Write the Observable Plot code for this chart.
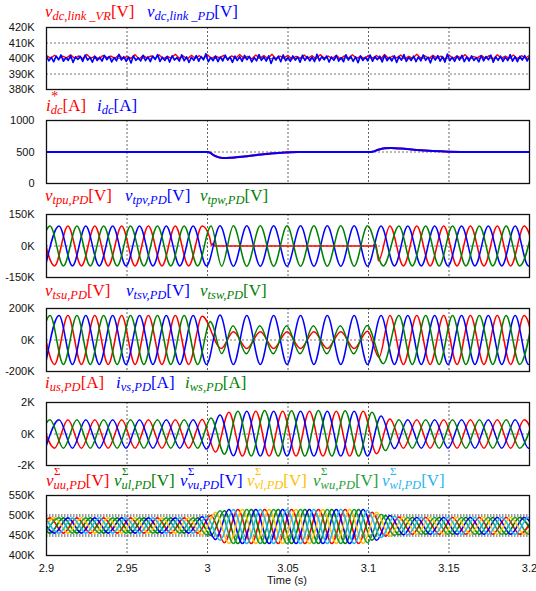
<!DOCTYPE html>
<html><head><meta charset="utf-8">
<script src="https://cdn.jsdelivr.net/npm/d3@7"></script>
<script src="https://cdn.jsdelivr.net/npm/@observablehq/plot@0.6"></script>
<style>
html,body{margin:0;padding:0;background:#fff;}
#chart{position:relative;width:536px;height:591px;overflow:hidden;background:#fff;}
.t{position:absolute;white-space:nowrap;font-family:"Liberation Serif","Times New Roman",serif;font-size:17px;line-height:17px;}
.t i{font-style:italic;}
.ss{position:relative;font-size:12.5px;font-style:italic;top:3px;}
.sp{position:absolute;font-style:normal;white-space:nowrap;}
.ax{position:absolute;font-family:"Liberation Sans",Arial,sans-serif;font-size:11px;color:#111;white-space:nowrap;}
</style></head><body><div id="chart"></div>
<script>
// ---------- colours ----------
const RED="#ff0000", BLUE="#0000ff", GREEN="#008000", YELLOW="#ffc000", GREEN2="#1f9e3a", CYAN="#25b6ee";

// ---------- x axis ----------
const xTicks=[2.9,2.95,3,3.05,3.1,3.15,3.2];
const xTickLabels=["2.9","2.95","3","3.05","3.1","3.15","3.2"];
const xGrid=[2.95,3,3.05,3.1,3.15];
const xTitle="Time (s)";

// ---------- panel 1 : dc link voltage deviation from 400 kV, even samples over 2.9..3.2 ----------
const p1Ticks=[380,390,400,410,420];
const p1Labels=["380K","390K","400K","410K","420K"];
const p1Base=400;
const p1VR=[1.8,0.2,2.1,-0.3,1.5,0.4,2.4,0.0,1.7,-0.2,2.6,0.3,1.4,-0.4,2.0,0.5,1.6,0.1,2.3,-0.1,1.3,0.2,2.5,-0.3,1.9,0.4,1.7,0.0,2.2,-0.2,1.4,0.3,2.7,0.1,1.6,-0.4,2.1,0.2,1.8,0.0,2.4,-0.1,1.5,0.4,2.0,-0.3,1.7,0.2,2.6,0.1,1.3,-0.2,2.2,0.3,1.9,0.0,2.8,-0.1,1.6,0.4,2.0,-0.3,1.4,0.2,2.3,0.1,1.8,-0.2,2.5,0.3,1.5,0.0,2.1,-0.4,1.7,0.2,2.4,0.1,1.3,-0.1,2.0,0.3,1.9,-0.3,2.6,0.0,1.6,0.4,2.2,-0.2,1.4,0.1,2.7,0.2,1.8,-0.1,2.1,0.3,1.5,-0.4,2.3,0.0,1.7,0.2,2.5,-0.2,1.4,0.4,2.0,0.1,1.9,-0.3,2.4,0.2,1.6,0.0,2.2,-0.1,1.8,0.3,2.0];
const p1PD=[1.2,-1.5,0.8,-2.1,1.6,-0.9,2.3,-1.8,0.5,-1.2,1.9,-2.6,1.1,-0.6,1.4,-1.9,2.2,-1.1,0.7,-2.4,
1.5,-1.3,0.9,-1.7,2.0,-0.8,1.3,-2.2,0.6,-1.5,2.7,-1.0,1.2,-1.8,0.8,-2.9,1.7,-1.2,0.4,-1.6,
2.1,-1.4,1.0,-2.0,1.6,-0.7,2.5,-1.9,0.9,-1.3,1.4,-2.3,1.8,-1.0,0.6,-1.7,2.4,-1.5,1.1,-2.6,
0.8,-1.2,1.9,-1.8,1.3,-0.9,3.1,-2.1,0.7,-1.4,1.5,-2.0,1.0,-1.6,2.2,-1.1,0.9,-2.5,1.6,-1.3,
1.2,-1.9,2.0,-0.8,1.4,-2.2,0.6,-1.5,2.6,-1.2,1.1,-1.7,1.8,-3.2,0.9,-1.0,1.5,-2.1,2.3,-1.4,
0.7,-1.8,1.7,-1.1,1.0,-2.4,2.1,-1.3,1.3,-1.6,0.8,-2.0,2.8,-1.5,1.2,-0.9,1.6,-2.3,1.0,-1.2,
1.9,-1.7,0.6,-2.1,2.4,-1.0,1.4,-1.9,1.1,-2.7,1.7,-1.3,0.9,-1.5,2.2,-1.8,1.3,-0.8,1.5,-2.2,
2.0,-1.4,0.8,-1.6,1.8,-2.5,1.2,-1.1,2.6,-1.9,0.7,-1.3,1.6,-2.0,1.1,-1.5,2.3,-1.2,0.9,-2.8,
1.4,-1.0,1.9,-1.7,1.2,-2.3,2.9,-1.4,0.8,-1.8,1.5,-1.1,2.1,-2.0,1.0,-1.6,1.7,-1.3,0.6,-2.2,
1.8,-1.5,1.3,-0.9,2.2,-2.4,1.1,-1.2,1.6,-1.9,0.9,-1.4,2.5,-1.7,1.2,-2.1,1.4,-1.0,1.9,-1.6,
1.0];

// ---------- panel 2 : dc current (A) ----------
const p2Ticks=[0,500,1000];
const p2Labels=["0","500","1000"];
const p2Ref=[[2.9,500],[3.0,500],[3.0015,492],[3.004,448],[3.007,417],[3.010,406],[3.014,409],[3.020,423],[3.030,451],[3.040,479],[3.048,494],[3.056,500],[3.1,500],[3.1025,504],[3.106,536],[3.110,559],[3.114,563],[3.120,555],[3.130,532],[3.140,515],[3.150,505],[3.165,500],[3.2,500]];
const p2Idc=[[2.9,500],[2.95,500],[3.0,500],[3.0015,490],[3.004,445],[3.007,415],[3.010,405],[3.014,408],[3.020,422],[3.030,450],[3.040,478],[3.048,493],[3.056,499],[3.07,500],[3.1,500],[3.1025,503],[3.106,535],[3.110,558],[3.114,563],[3.120,555],[3.130,532],[3.140,515],[3.150,505],[3.165,500],[3.2,500]];

// ---------- panel 3 : primary terminal voltages (kV), extrema ----------
const p3Ticks=[-150,0,150];
const p3Labels=["-150K","0K","150K"];
const p3U=[[2.8967,95],[2.9050,-95],[2.9133,95],[2.9217,-95],[2.9300,95],[2.9383,-95],[2.9467,95],[2.9550,-95],[2.9633,95],[2.9717,-95],[2.9800,95],[2.9883,-95],[2.9967,95],[3.0012,45],[3.0026,4],[3.0034,12],[3.0046,0],[3.1030,0],[3.1036,11],[3.1046,7],[3.1062,-70],[3.1133,95],[3.1217,-95],[3.1300,95],[3.1383,-95],[3.1467,95],[3.1550,-95],[3.1633,95],[3.1717,-95],[3.1800,95],[3.1883,-95],[3.1967,95],[3.2050,-95]];
const p3V=[[2.8994,-95],[2.9078,95],[2.9161,-95],[2.9244,95],[2.9328,-95],[2.9411,95],[2.9494,-95],[2.9578,95],[2.9661,-95],[2.9744,95],[2.9828,-95],[2.9911,95],[2.9994,-95],[3.0078,96],[3.0161,-96],[3.0244,96],[3.0328,-96],[3.0411,96],[3.0494,-96],[3.0578,96],[3.0661,-96],[3.0744,96],[3.0828,-96],[3.0911,96],[3.0994,-96],[3.1078,95],[3.1161,-95],[3.1244,95],[3.1328,-95],[3.1411,95],[3.1494,-95],[3.1578,95],[3.1661,-95],[3.1744,95],[3.1828,-95],[3.1911,95],[3.1994,-95],[3.2078,95]];
const p3W=[[2.8939,-95],[2.9022,95],[2.9105,-95],[2.9189,95],[2.9272,-95],[2.9355,95],[2.9439,-95],[2.9522,95],[2.9605,-95],[2.9689,95],[2.9772,-95],[2.9855,95],[2.9939,-95],[3.0022,95],[3.0088,-96],[3.0161,96],[3.0244,-96],[3.0328,96],[3.0411,-96],[3.0494,96],[3.0578,-96],[3.0661,96],[3.0744,-96],[3.0828,96],[3.0911,-96],[3.0994,96],[3.1092,-95],[3.1189,95],[3.1272,-95],[3.1355,95],[3.1439,-95],[3.1522,95],[3.1605,-95],[3.1689,95],[3.1772,-95],[3.1855,95],[3.1939,-95],[3.2022,95]];

// ---------- panel 4 : secondary terminal voltages (kV), extrema ----------
const p4Ticks=[-200,0,200];
const p4Labels=["-200K","0K","200K"];
const p4U=[[2.8967,155],[2.9050,-155],[2.9133,155],[2.9217,-155],[2.9300,155],[2.9383,-155],[2.9467,155],[2.9550,-155],[2.9633,155],[2.9717,-155],[2.9800,155],[2.9883,-155],[2.9967,150],[3.0085,-54],[3.0161,52],[3.0244,-54],[3.0328,52],[3.0411,-54],[3.0494,52],[3.0578,-54],[3.0661,52],[3.0744,-54],[3.0828,52],[3.0911,-54],[3.0994,55],[3.1065,-110],[3.1133,155],[3.1217,-155],[3.1300,155],[3.1383,-155],[3.1467,155],[3.1550,-155],[3.1633,155],[3.1717,-155],[3.1800,155],[3.1883,-155],[3.1967,155],[3.2050,-155]];
const p4V=[[2.8994,-155],[2.9078,155],[2.9161,-155],[2.9244,155],[2.9328,-155],[2.9411,155],[2.9494,-155],[2.9578,155],[2.9661,-155],[2.9744,155],[2.9828,-155],[2.9911,155],[2.9994,-155],[3.0078,158],[3.0161,-155],[3.0244,155],[3.0328,-155],[3.0411,155],[3.0494,-155],[3.0578,155],[3.0661,-155],[3.0744,155],[3.0828,-155],[3.0911,155],[3.0994,-155],[3.1078,155],[3.1161,-155],[3.1244,155],[3.1328,-155],[3.1411,155],[3.1494,-155],[3.1578,155],[3.1661,-155],[3.1744,155],[3.1828,-155],[3.1911,155],[3.1994,-155],[3.2078,155]];
const p4W=[[2.8939,-155],[2.9022,155],[2.9105,-155],[2.9189,155],[2.9272,-155],[2.9355,155],[2.9439,-155],[2.9522,155],[2.9605,-155],[2.9689,155],[2.9772,-155],[2.9855,155],[2.9939,-155],[3.0018,118],[3.0028,104],[3.0088,-86],[3.0158,90],[3.0241,-88],[3.0325,90],[3.0408,-88],[3.0491,90],[3.0575,-88],[3.0658,90],[3.0741,-88],[3.0825,90],[3.0908,-88],[3.0991,92],[3.1092,-150],[3.1189,155],[3.1272,-155],[3.1355,155],[3.1439,-155],[3.1522,155],[3.1605,-155],[3.1689,155],[3.1772,-155],[3.1855,155],[3.1939,-155],[3.2022,155]];

// ---------- panel 5 : secondary currents (A), extrema ----------
const p5Ticks=[-2000,0,2000];
const p5Labels=["-2K","0K","2K"];
const p5U=[[2.8967,900],[2.9050,-900],[2.9133,900],[2.9217,-900],[2.9300,900],[2.9383,-900],[2.9467,900],[2.9550,-900],[2.9633,900],[2.9717,-900],[2.9800,900],[2.9883,-900],[2.9967,920],[3.0050,-1150],[3.0133,1380],[3.0217,-1400],[3.0300,1450],[3.0383,-1400],[3.0467,1450],[3.0550,-1400],[3.0633,1450],[3.0717,-1400],[3.0800,1450],[3.0883,-1400],[3.0967,1450],[3.1050,-1250],[3.1133,950],[3.1217,-900],[3.1300,900],[3.1383,-900],[3.1467,900],[3.1550,-900],[3.1633,900],[3.1717,-900],[3.1800,900],[3.1883,-900],[3.1967,900],[3.2050,-900]];
const p5V=[[2.8994,-900],[2.9078,900],[2.9161,-900],[2.9244,900],[2.9328,-900],[2.9411,900],[2.9494,-900],[2.9578,900],[2.9661,-900],[2.9744,900],[2.9828,-900],[2.9911,900],[2.9994,-960],[3.0078,1200],[3.0161,-1380],[3.0244,1450],[3.0328,-1400],[3.0411,1450],[3.0494,-1400],[3.0578,1450],[3.0661,-1400],[3.0744,1450],[3.0828,-1400],[3.0911,1450],[3.0994,-1400],[3.1078,1150],[3.1161,-920],[3.1244,900],[3.1328,-900],[3.1411,900],[3.1494,-900],[3.1578,900],[3.1661,-900],[3.1744,900],[3.1828,-900],[3.1911,900],[3.1994,-900],[3.2078,900]];
const p5W=[[2.8939,-900],[2.9022,900],[2.9105,-900],[2.9189,900],[2.9272,-900],[2.9355,900],[2.9439,-900],[2.9522,900],[2.9605,-900],[2.9689,900],[2.9772,-900],[2.9855,900],[2.9939,-900],[3.0022,1020],[3.0105,-1280],[3.0189,1450],[3.0272,-1400],[3.0355,1500],[3.0439,-1400],[3.0522,1480],[3.0605,-1400],[3.0689,1500],[3.0772,-1400],[3.0855,1480],[3.0939,-1400],[3.1022,1380],[3.1105,-1050],[3.1189,900],[3.1272,-900],[3.1355,900],[3.1439,-900],[3.1522,900],[3.1605,-900],[3.1689,900],[3.1772,-900],[3.1855,900],[3.1939,-900],[3.2022,900]];

// ---------- panel 6 : arm capacitor voltage sums (kV), extrema ----------
const p6Ticks=[400,450,500,550];
const p6Labels=["400K","450K","500K","550K"];
const p6UU=[[2.8939,456],[2.9022,494],[2.9105,456],[2.9189,494],[2.9272,456],[2.9355,494],[2.9439,456],[2.9522,494],[2.9605,456],[2.9689,494],[2.9772,456],[2.9855,494],[2.9939,456],[3.0022,500],[3.0105,432],[3.0189,515],[3.0272,430],[3.0355,515],[3.0439,430],[3.0522,515],[3.0605,430],[3.0689,515],[3.0772,430],[3.0855,515],[3.0939,430],[3.1022,508],[3.1105,448],[3.1189,496],[3.1272,453],[3.1355,495],[3.1439,453],[3.1522,495],[3.1605,453],[3.1689,495],[3.1772,453],[3.1855,495],[3.1939,453],[3.2022,495]];
const p6UL=[[2.8939,494],[2.9022,456],[2.9105,494],[2.9189,456],[2.9272,494],[2.9355,456],[2.9439,494],[2.9522,456],[2.9605,494],[2.9689,456],[2.9772,494],[2.9855,456],[2.9939,494],[3.0022,450],[3.0105,512],[3.0189,430],[3.0272,515],[3.0355,430],[3.0439,515],[3.0522,430],[3.0605,515],[3.0689,430],[3.0772,515],[3.0855,430],[3.0939,515],[3.1022,438],[3.1105,500],[3.1189,452],[3.1272,495],[3.1355,453],[3.1439,495],[3.1522,453],[3.1605,495],[3.1689,453],[3.1772,495],[3.1855,453],[3.1939,495],[3.2022,453]];
const p6VU=[[2.8967,494],[2.9050,456],[2.9133,494],[2.9217,456],[2.9300,494],[2.9383,456],[2.9467,494],[2.9550,456],[2.9633,494],[2.9717,456],[2.9800,494],[2.9883,456],[2.9967,497],[3.0050,440],[3.0133,515],[3.0217,430],[3.0300,515],[3.0383,430],[3.0467,515],[3.0550,430],[3.0633,515],[3.0717,430],[3.0800,515],[3.0883,430],[3.0967,515],[3.1050,438],[3.1133,500],[3.1217,452],[3.1300,495],[3.1383,453],[3.1467,495],[3.1550,453],[3.1633,495],[3.1717,453],[3.1800,495],[3.1883,453],[3.1967,495],[3.2050,453]];
const p6VL=[[2.8967,456],[2.9050,494],[2.9133,456],[2.9217,494],[2.9300,456],[2.9383,494],[2.9467,456],[2.9550,494],[2.9633,456],[2.9717,494],[2.9800,456],[2.9883,494],[2.9967,452],[3.0050,508],[3.0133,430],[3.0217,515],[3.0300,430],[3.0383,515],[3.0467,430],[3.0550,515],[3.0633,430],[3.0717,515],[3.0800,430],[3.0883,515],[3.0967,430],[3.1050,508],[3.1133,448],[3.1217,496],[3.1300,453],[3.1383,495],[3.1467,453],[3.1550,495],[3.1633,453],[3.1717,495],[3.1800,453],[3.1883,495],[3.1967,453],[3.2050,495]];
const p6WU=[[2.8994,456],[2.9078,494],[2.9161,456],[2.9244,494],[2.9328,456],[2.9411,494],[2.9494,456],[2.9578,494],[2.9661,456],[2.9744,494],[2.9828,456],[2.9911,494],[2.9994,452],[3.0078,512],[3.0161,430],[3.0244,515],[3.0328,430],[3.0411,515],[3.0494,430],[3.0578,515],[3.0661,430],[3.0744,515],[3.0828,430],[3.0911,515],[3.0994,432],[3.1078,503],[3.1161,450],[3.1244,495],[3.1328,453],[3.1411,495],[3.1494,453],[3.1578,495],[3.1661,453],[3.1744,495],[3.1828,453],[3.1911,495],[3.1994,453],[3.2078,495]];
const p6WL=[[2.8994,494],[2.9078,456],[2.9161,494],[2.9244,456],[2.9328,494],[2.9411,456],[2.9494,494],[2.9578,456],[2.9661,494],[2.9744,456],[2.9828,494],[2.9911,456],[2.9994,497],[3.0078,438],[3.0161,515],[3.0244,430],[3.0328,515],[3.0411,430],[3.0494,515],[3.0578,430],[3.0661,515],[3.0744,430],[3.0828,515],[3.0911,430],[3.0994,513],[3.1078,445],[3.1161,498],[3.1244,452],[3.1328,495],[3.1411,453],[3.1494,495],[3.1578,453],[3.1661,495],[3.1744,453],[3.1828,495],[3.1911,453],[3.1994,495],[3.2078,453]];

// ---------- titles ----------
const titleRows=[
  {baseline:17, items:[{x:45,color:RED,base:"v",sub:"dc,link _VR",unit:"[V]"},{x:147,color:BLUE,base:"v",sub:"dc,link _PD",unit:"[V]"}]},
  {baseline:111, items:[{x:46,color:RED,base:"i",sup:"*",sub:"dc",unit:"[A]"},{x:97,color:BLUE,base:"i",sub:"dc",unit:"[A]"}]},
  {baseline:201, items:[{x:45,color:RED,base:"v",sub:"tpu,PD",unit:"[V]"},{x:125,color:BLUE,base:"v",sub:"tpv,PD",unit:"[V]"},{x:200,color:GREEN,base:"v",sub:"tpw,PD",unit:"[V]"}]},
  {baseline:296, items:[{x:45,color:RED,base:"v",sub:"tsu,PD",unit:"[V]"},{x:126,color:BLUE,base:"v",sub:"tsv,PD",unit:"[V]"},{x:200,color:GREEN,base:"v",sub:"tsw,PD",unit:"[V]"}]},
  {baseline:388, items:[{x:45,color:RED,base:"i",sub:"us,PD",unit:"[A]"},{x:116,color:BLUE,base:"i",sub:"vs,PD",unit:"[A]"},{x:185,color:GREEN,base:"i",sub:"ws,PD",unit:"[A]"}]},
  {baseline:486, items:[{x:46,color:RED,base:"v",sup:"Σ",sub:"uu,PD",unit:"[V]"},{x:114,color:GREEN,base:"v",sup:"Σ",sub:"ul,PD",unit:"[V]"},{x:180,color:BLUE,base:"v",sup:"Σ",sub:"vu,PD",unit:"[V]"},{x:247,color:YELLOW,base:"v",sup:"Σ",sub:"vl,PD",unit:"[V]"},{x:313,color:GREEN2,base:"v",sup:"Σ",sub:"wu,PD",unit:"[V]"},{x:382,color:CYAN,base:"v",sup:"Σ",sub:"wl,PD",unit:"[V]"}]}
];

// ---------- build ----------
const root=document.getElementById("chart");
const pairX=d=>d[0], pairY=d=>d[1];
function sampled(vals,base){const s=0.3/(vals.length-1);return vals.map((v,i)=>[2.9+i*s,base+v]);}

function panel(cfg){
  const mt=8, mb=cfg.xAxis?36:8;
  const yfmt=new Map(cfg.yTicks.map((v,i)=>[v,cfg.yLabels[i]]));
  const xfmt=new Map(xTicks.map((v,i)=>[v,xTickLabels[i]]));
  const marks=[
    Plot.ruleY(cfg.gridY,{stroke:cfg.gridColor||"#777",strokeWidth:cfg.gridWidth||1,strokeDasharray:cfg.gridDash||"2,2"}),
    Plot.ruleX(xGrid,{stroke:"#666",strokeWidth:1,strokeDasharray:"2,2"}),
    ...cfg.series.map(s=>Plot.line(s.data,{x:pairX,y:pairY,stroke:s.color,strokeWidth:s.width||1.5,curve:s.curve||"monotone-x",clip:true})),
    Plot.frame({stroke:"#111",strokeWidth:1.3})
  ];
  const svg=Plot.plot({
    width:536,height:cfg.bottom-cfg.top+mt+mb,
    marginTop:mt,marginBottom:mb,marginLeft:46,marginRight:7,
    style:{background:"transparent",fontFamily:"'Liberation Sans',Arial,sans-serif",fontSize:"11px",color:"#111",overflow:"visible"},
    x:{domain:[2.9,3.2],ticks:xTicks,tickFormat:d=>xfmt.get(d),tickSize:0,tickPadding:9,label:null,axis:cfg.xAxis?"bottom":null},
    y:{domain:cfg.yDomain,ticks:cfg.yTicks,tickFormat:d=>yfmt.get(d),tickSize:0,tickPadding:12,label:null},
    marks
  });
  svg.style.position="absolute";svg.style.left="0px";svg.style.top=(cfg.top-mt)+"px";
  root.appendChild(svg);
}

panel({top:27,bottom:89,yDomain:[380,420],yTicks:p1Ticks,yLabels:p1Labels,gridY:[390,400,410],
  series:[{data:sampled(p1VR,p1Base),color:RED,width:1.4,curve:"linear"},{data:sampled(p1PD,p1Base),color:BLUE,width:1.6,curve:"linear"}]});
panel({top:120,bottom:183,yDomain:[0,1000],yTicks:p2Ticks,yLabels:p2Labels,gridY:[500],
  series:[{data:p2Ref,color:RED,width:2},{data:p2Idc,color:BLUE,width:2}]});
panel({top:214,bottom:277,yDomain:[-150,150],yTicks:p3Ticks,yLabels:p3Labels,gridY:[0],
  series:[{data:p3U,color:RED},{data:p3V,color:BLUE},{data:p3W,color:GREEN}]});
panel({top:308,bottom:371,yDomain:[-200,200],yTicks:p4Ticks,yLabels:p4Labels,gridY:[0],
  series:[{data:p4U,color:RED},{data:p4V,color:BLUE},{data:p4W,color:GREEN}]});
panel({top:402,bottom:465,yDomain:[-2000,2000],yTicks:p5Ticks,yLabels:p5Labels,gridY:[0],
  series:[{data:p5U,color:RED},{data:p5V,color:BLUE},{data:p5W,color:GREEN}]});
panel({top:495,bottom:555,yDomain:[400,550],yTicks:p6Ticks,yLabels:p6Labels,gridY:[450,500],gridColor:"#999",gridWidth:3,gridDash:"1.5,1.5",xAxis:true,
  series:[{data:p6UU,color:RED,width:1.6},{data:p6UL,color:GREEN,width:1.6},{data:p6VU,color:BLUE,width:1.6},{data:p6VL,color:YELLOW,width:1.6},{data:p6WU,color:GREEN2,width:1.6},{data:p6WL,color:CYAN,width:1.6}]});

// titles as real text (superscript placed above the subscript, clear of its box)
for(const row of titleRows){
  for(const it of row.items){
    const el=document.createElement("div");
    el.className="t";
    el.style.left=it.x+"px";el.style.top=(row.baseline-14)+"px";el.style.color=it.color;
    const b=document.createElement("i");b.textContent=it.base;el.appendChild(b);
    const ss=document.createElement("span");ss.className="ss";ss.textContent=it.sub;
    el.appendChild(ss);
    el.appendChild(document.createTextNode(it.unit));
    root.appendChild(el);
    if(it.sup){
      const sp=document.createElement("span");sp.className="sp";sp.textContent=it.sup;
      const bw=b.getBoundingClientRect().width;
      sp.style.left=(bw+0.5)+"px";
      if(it.sup==="*"){sp.style.fontSize="14px";sp.style.lineHeight="3px";sp.style.top="-2px";}
      else{sp.style.fontSize="11px";sp.style.lineHeight="7px";sp.style.top="-4px";}
      el.appendChild(sp);
    }
  }
}
const xt=document.createElement("div");xt.className="ax";xt.textContent=xTitle;
xt.style.left="287px";xt.style.top="574px";xt.style.transform="translateX(-50%)";
root.appendChild(xt);
</script></body></html>
